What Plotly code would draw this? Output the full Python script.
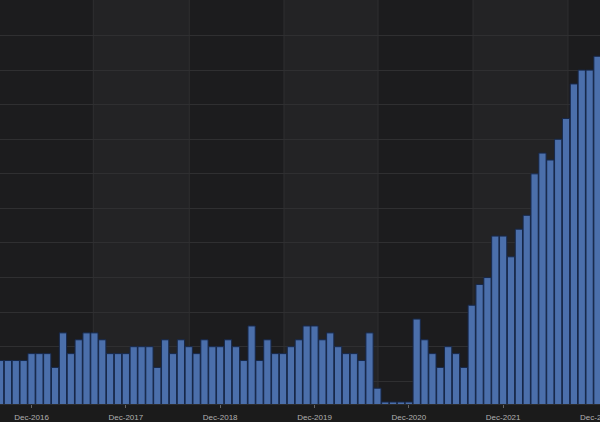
import plotly.graph_objects as go

# Monthly values, Aug-2016 .. Dec-2022 (index 0 .. 76)
values = [8, 8, 8, 8, 9, 9, 9, 7, 12, 9, 11, 12, 12, 11, 9, 9, 9,
          10, 10, 10, 7, 11, 9, 11, 10, 9, 11, 10, 10, 11, 10, 8, 13,
          8, 11, 9, 9, 10, 11, 13, 13, 11, 12, 10, 9, 9, 8, 12, 4,
          2, 2, 2, 2, 14, 11, 9, 7, 10, 9, 7, 16, 19, 20, 26, 26, 23,
          27, 29, 35, 38, 37, 40, 43, 48, 50, 50, 52]
months = list(range(len(values)))

tick_positions = [4, 16, 28, 40, 52, 64, 76]
tick_labels = ["Dec-2016", "Dec-2017", "Dec-2018", "Dec-2019",
               "Dec-2020", "Dec-2021", "Dec-2022"]

# alternating background band edges (in month-index units)
band_edges = [-1, 11.86, 24.07, 36.12, 48.08, 60.17, 72.25, 78]

DARK = "#1c1c1e"
LIGHT = "#232325"
GRID = "#2f2f31"
LABEL_FONT = dict(family="Liberation Sans, Arial", size=8, color="#b0b0b0")

fig = go.Figure()
fig.add_trace(go.Bar(
    x=months, y=values,
    marker=dict(color="#4b6fab", line=dict(color="#17284a", width=1)),
    hoverinfo="skip",
))

shapes = []
for k in range(len(band_edges) - 1):
    shapes.append(dict(type="rect", xref="x", yref="paper",
                       x0=band_edges[k], x1=band_edges[k + 1], y0=0, y1=1,
                       fillcolor=DARK if k % 2 == 0 else LIGHT,
                       line=dict(width=0), layer="below"))
for e in band_edges[1:-1]:
    shapes.append(dict(type="line", xref="x", yref="paper",
                       x0=e, x1=e, y0=0, y1=1,
                       line=dict(color=GRID, width=1), layer="below"))

fig.update_layout(
    width=600, height=422,
    margin=dict(l=0, r=0, t=0, b=13),
    paper_bgcolor="#1b1b1b",
    plot_bgcolor=DARK,
    bargap=0.08,
    showlegend=False,
    shapes=shapes,
    xaxis=dict(
        range=[-0.01, 76.32],
        tickmode="array", tickvals=tick_positions[:-1], ticktext=tick_labels[:-1],
        showgrid=False, zeroline=False,
        ticks="outside", ticklen=3, tickcolor="#666666",
        tickfont=LABEL_FONT, ticklabelstandoff=2,
        showline=True, linecolor="#2c2c2c", linewidth=1,
    ),
    yaxis=dict(
        range=[1.714, 60.14],
        tick0=0, dtick=5,
        showgrid=True, gridcolor=GRID, gridwidth=1,
        zeroline=False, showticklabels=False, ticks="",
    ),
    annotations=[dict(
        x=tick_positions[-1], xref="x", y=0, yref="paper",
        text=tick_labels[-1], showarrow=False,
        xanchor="center", yanchor="top", yshift=-7,
        font=LABEL_FONT,
    )],
)

fig.write_html("out.html")
